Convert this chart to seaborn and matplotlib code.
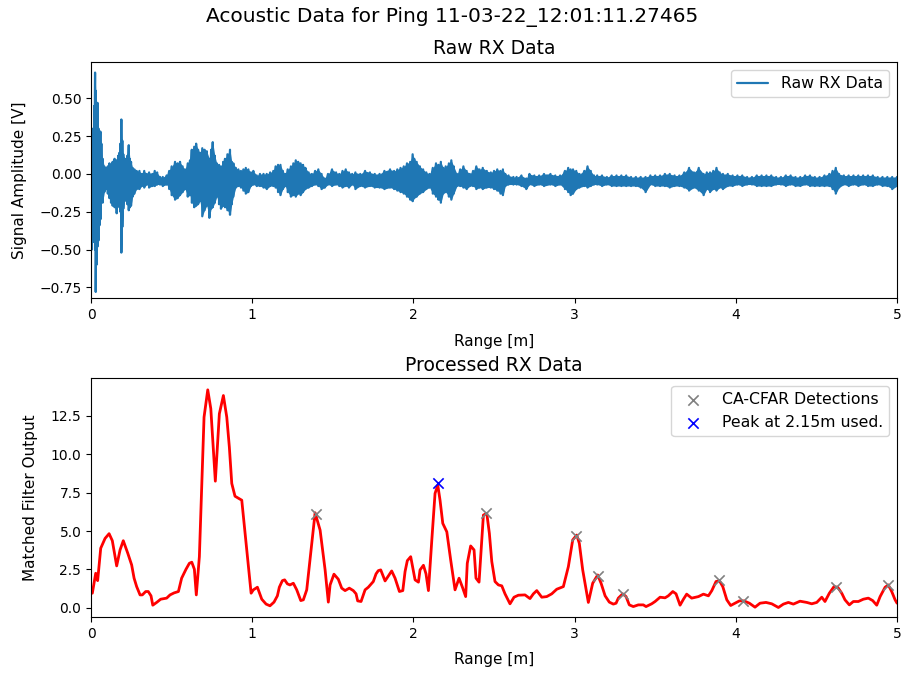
"""
Acoustic ping plot: raw RX signal and matched filter output with CA-CFAR detections
"""

import numpy as np
import matplotlib
matplotlib.use("Agg")
import matplotlib.pyplot as plt
import seaborn as sns

# --- Data ---
# raw RX signal, upper / lower extremes of the trace at each range
raw_range = [0.000, 0.005, 0.010, 0.015, 0.020, 0.025, 0.029, 0.034, 0.040, 0.046,
             0.052, 0.058, 0.064, 0.072, 0.082, 0.093, 0.104, 0.114, 0.124, 0.134,
             0.146, 0.159, 0.168, 0.176, 0.182, 0.188, 0.194, 0.200, 0.208, 0.217,
             0.225, 0.234, 0.241, 0.248, 0.258, 0.269, 0.283, 0.300, 0.315, 0.330,
             0.345, 0.360, 0.380, 0.395, 0.410, 0.428, 0.445, 0.469, 0.485, 0.500,
             0.521, 0.537, 0.552, 0.568, 0.583, 0.600, 0.614, 0.625, 0.640, 0.652,
             0.664, 0.676, 0.690, 0.704, 0.718, 0.734, 0.745, 0.755, 0.768, 0.780,
             0.794, 0.806, 0.820, 0.831, 0.846, 0.862, 0.873, 0.883, 0.898, 0.914,
             0.930, 0.945, 0.960, 0.976, 0.992, 1.007, 1.028, 1.048, 1.070, 1.090,
             1.111, 1.131, 1.145, 1.160, 1.175, 1.190, 1.205, 1.220, 1.240, 1.255,
             1.270, 1.285, 1.300, 1.315, 1.330, 1.350, 1.370, 1.390, 1.410, 1.430,
             1.450, 1.470, 1.495, 1.520, 1.540, 1.560, 1.580, 1.600, 1.620, 1.640,
             1.670, 1.700, 1.730, 1.760, 1.790, 1.820, 1.855, 1.880, 1.900, 1.920,
             1.940, 1.960, 1.980, 1.995, 2.005, 2.020, 2.040, 2.060, 2.080, 2.100,
             2.120, 2.140, 2.155, 2.170, 2.185, 2.200, 2.220, 2.235, 2.250, 2.270,
             2.290, 2.310, 2.330, 2.350, 2.370, 2.390, 2.410, 2.430, 2.455, 2.480,
             2.500, 2.520, 2.540, 2.555, 2.570, 2.590, 2.620, 2.640, 2.670, 2.700,
             2.720, 2.750, 2.780, 2.810, 2.850, 2.880, 2.910, 2.940, 2.960, 2.975,
             2.990, 3.010, 3.030, 3.060, 3.080, 3.100, 3.120, 3.140, 3.170, 3.200,
             3.230, 3.260, 3.290, 3.320, 3.350, 3.380, 3.410, 3.440, 3.470, 3.500,
             3.530, 3.560, 3.590, 3.620, 3.650, 3.680, 3.710, 3.740, 3.770, 3.800,
             3.820, 3.840, 3.860, 3.880, 3.900, 3.920, 3.950, 3.980, 4.010, 4.040,
             4.070, 4.100, 4.130, 4.160, 4.190, 4.220, 4.250, 4.280, 4.310, 4.340,
             4.370, 4.400, 4.430, 4.460, 4.490, 4.520, 4.550, 4.580, 4.600, 4.620,
             4.640, 4.670, 4.700, 4.730, 4.760, 4.790, 4.820, 4.850, 4.880, 4.910,
             4.940, 4.970, 5.000]
raw_upper = [0.30, 0.30, 0.25, 0.28, 0.45, 0.67, 0.55, 0.40, 0.47, 0.30,
             0.28, 0.28, 0.20, 0.10, 0.05, 0.04, 0.05, 0.07, 0.06, 0.08,
             0.10, 0.09, 0.12, 0.14, 0.20, 0.36, 0.22, 0.13, 0.10, 0.10,
             0.12, 0.19, 0.10, 0.08, 0.04, 0.03, 0.02, 0.02, 0.00, 0.02,
             0.00, 0.01, 0.00, 0.02, 0.01, -0.02, -0.02, -0.01, 0.02, 0.05,
             0.08, 0.07, 0.08, 0.05, 0.03, 0.07, 0.09, 0.16, 0.18, 0.20,
             0.16, 0.14, 0.17, 0.16, 0.15, 0.10, 0.16, 0.21, 0.12, 0.07,
             0.06, 0.05, 0.08, 0.10, 0.13, 0.16, 0.08, 0.07, 0.04, 0.03,
             0.02, 0.03, 0.04, 0.03, 0.01, 0.02, -0.01, 0.00, 0.00, 0.00,
             0.01, 0.02, 0.05, 0.06, 0.06, 0.02, 0.00, 0.03, 0.05, 0.07,
             0.09, 0.08, 0.07, 0.06, 0.04, 0.01, 0.00, 0.02, 0.03, 0.00,
             -0.03, 0.00, 0.03, 0.01, 0.00, 0.02, 0.03, 0.01, 0.00, 0.01,
             0.00, 0.02, 0.01, 0.00, 0.00, 0.02, 0.03, 0.02, 0.03, 0.04,
             0.05, 0.07, 0.08, 0.13, 0.10, 0.08, 0.05, 0.03, 0.01, 0.00,
             0.04, 0.07, 0.06, 0.08, 0.04, 0.05, 0.07, 0.09, 0.05, 0.00,
             0.03, 0.05, 0.02, 0.00, 0.02, 0.05, 0.03, 0.04, 0.02, 0.01,
             0.02, 0.03, 0.02, 0.03, 0.00, -0.01, -0.02, -0.02, -0.01, -0.03,
             0.00, -0.01, -0.01, 0.00, 0.00, -0.01, -0.01, 0.02, 0.04, 0.03,
             0.03, 0.02, 0.00, 0.02, 0.05, 0.02, -0.01, -0.01, -0.01, -0.02,
             -0.01, -0.01, -0.01, -0.01, -0.02, -0.02, -0.02, -0.02, -0.01, -0.01,
             -0.01, 0.00, 0.00, -0.01, -0.01, 0.01, 0.04, 0.01, 0.04, 0.00,
             0.01, 0.01, 0.02, 0.04, 0.01, 0.00, 0.00, -0.01, -0.01, -0.01,
             -0.02, -0.02, -0.01, -0.01, -0.01, -0.01, -0.02, -0.02, -0.01, -0.01,
             -0.02, -0.02, -0.01, -0.01, -0.02, -0.02, -0.01, 0.00, 0.02, 0.04,
             0.00, -0.01, -0.01, -0.01, -0.01, -0.01, -0.01, -0.01, -0.02, -0.02,
             -0.02, -0.02, -0.02]
raw_lower = [-0.48, -0.50, -0.40, -0.45, -0.30, -0.50, -0.78, -0.60, -0.48, -0.44,
             -0.34, -0.30, -0.17, -0.19, -0.12, -0.10, -0.13, -0.16, -0.19, -0.21,
             -0.22, -0.26, -0.20, -0.22, -0.25, -0.52, -0.35, -0.23, -0.18, -0.16,
             -0.20, -0.24, -0.22, -0.21, -0.15, -0.13, -0.10, -0.10, -0.08, -0.09,
             -0.07, -0.09, -0.08, -0.08, -0.07, -0.07, -0.08, -0.07, -0.10, -0.14,
             -0.17, -0.16, -0.14, -0.12, -0.10, -0.15, -0.14, -0.19, -0.22, -0.21,
             -0.20, -0.18, -0.28, -0.24, -0.21, -0.29, -0.23, -0.22, -0.19, -0.15,
             -0.20, -0.23, -0.21, -0.22, -0.24, -0.27, -0.20, -0.15, -0.09, -0.08,
             -0.09, -0.11, -0.13, -0.12, -0.08, -0.07, -0.08, -0.08, -0.09, -0.10,
             -0.08, -0.08, -0.09, -0.12, -0.14, -0.10, -0.08, -0.12, -0.15, -0.14,
             -0.15, -0.13, -0.14, -0.12, -0.10, -0.09, -0.08, -0.07, -0.08, -0.10,
             -0.09, -0.07, -0.08, -0.07, -0.08, -0.09, -0.08, -0.09, -0.07, -0.10,
             -0.08, -0.09, -0.08, -0.09, -0.09, -0.10, -0.09, -0.10, -0.11, -0.12,
             -0.13, -0.15, -0.17, -0.18, -0.16, -0.15, -0.13, -0.12, -0.10, -0.09,
             -0.13, -0.15, -0.17, -0.19, -0.13, -0.12, -0.15, -0.17, -0.13, -0.08,
             -0.08, -0.09, -0.10, -0.08, -0.08, -0.10, -0.09, -0.10, -0.09, -0.09,
             -0.10, -0.11, -0.13, -0.14, -0.08, -0.07, -0.07, -0.07, -0.08, -0.10,
             -0.07, -0.08, -0.07, -0.08, -0.07, -0.08, -0.07, -0.10, -0.12, -0.14,
             -0.13, -0.10, -0.09, -0.08, -0.09, -0.08, -0.07, -0.07, -0.08, -0.07,
             -0.08, -0.08, -0.08, -0.08, -0.08, -0.08, -0.09, -0.12, -0.07, -0.08,
             -0.08, -0.08, -0.09, -0.08, -0.08, -0.09, -0.11, -0.09, -0.11, -0.14,
             -0.10, -0.12, -0.10, -0.11, -0.09, -0.10, -0.08, -0.08, -0.07, -0.08,
             -0.07, -0.07, -0.08, -0.08, -0.08, -0.08, -0.07, -0.07, -0.08, -0.07,
             -0.08, -0.08, -0.07, -0.08, -0.08, -0.08, -0.08, -0.08, -0.10, -0.13,
             -0.09, -0.07, -0.08, -0.07, -0.08, -0.07, -0.08, -0.08, -0.07, -0.08,
             -0.08, -0.10, -0.08]

# matched filter output
mf_range = [0.008, 0.029, 0.041, 0.060, 0.087, 0.112, 0.132, 0.159, 0.180, 0.200,
            0.228, 0.252, 0.267, 0.283, 0.304, 0.318, 0.339, 0.355, 0.372, 0.383,
            0.407, 0.432, 0.469, 0.490, 0.515, 0.542, 0.562, 0.589, 0.610, 0.625,
            0.641, 0.653, 0.672, 0.701, 0.724, 0.743, 0.771, 0.796, 0.821, 0.842,
            0.858, 0.873, 0.893, 0.935, 0.993, 1.007, 1.032, 1.059, 1.086, 1.110,
            1.135, 1.156, 1.168, 1.187, 1.201, 1.218, 1.234, 1.255, 1.276, 1.301,
            1.317, 1.338, 1.369, 1.390, 1.421, 1.452, 1.472, 1.483, 1.507, 1.534,
            1.555, 1.576, 1.602, 1.627, 1.644, 1.654, 1.675, 1.700, 1.720, 1.751,
            1.768, 1.782, 1.797, 1.824, 1.865, 1.886, 1.913, 1.934, 1.948, 1.962,
            1.983, 2.010, 2.031, 2.041, 2.062, 2.078, 2.093, 2.114, 2.134, 2.151,
            2.165, 2.182, 2.207, 2.231, 2.258, 2.283, 2.306, 2.324, 2.334, 2.355,
            2.376, 2.388, 2.407, 2.434, 2.455, 2.471, 2.486, 2.506, 2.527, 2.548,
            2.568, 2.599, 2.624, 2.651, 2.692, 2.723, 2.744, 2.765, 2.796, 2.827,
            2.858, 2.889, 2.930, 2.961, 2.988, 3.013, 3.029, 3.050, 3.085, 3.112,
            3.143, 3.164, 3.189, 3.215, 3.240, 3.257, 3.271, 3.298, 3.319, 3.339,
            3.364, 3.395, 3.426, 3.443, 3.478, 3.499, 3.530, 3.561, 3.581, 3.609,
            3.629, 3.654, 3.675, 3.695, 3.726, 3.768, 3.799, 3.830, 3.851, 3.877,
            3.898, 3.919, 3.944, 3.968, 3.995, 4.022, 4.051, 4.084, 4.119, 4.150,
            4.187, 4.223, 4.264, 4.295, 4.326, 4.357, 4.398, 4.440, 4.471, 4.502,
            4.533, 4.553, 4.580, 4.609, 4.632, 4.657, 4.677, 4.704, 4.729, 4.760,
            4.791, 4.822, 4.849, 4.874, 4.895, 4.926, 4.946, 4.967, 4.988, 5.000]
mf_output = [0.95, 2.25, 1.77, 3.88, 4.52, 4.83, 4.37, 2.73, 3.77, 4.37,
             3.55, 2.79, 1.93, 1.38, 0.84, 0.84, 1.06, 1.06, 0.78, 0.17,
             0.35, 0.56, 0.63, 0.84, 0.97, 1.06, 1.93, 2.51, 2.90, 2.97,
             2.51, 0.84, 3.33, 12.42, 14.20, 12.97, 8.25, 12.64, 13.83, 12.42,
             10.47, 8.10, 7.27, 7.01, 0.95, 1.17, 1.34, 0.56, 0.24, 0.13,
             0.37, 0.78, 1.34, 1.77, 1.82, 1.56, 1.49, 1.60, 1.17, 0.47,
             0.52, 1.17, 4.20, 6.19, 5.06, 2.47, 0.37, 1.49, 2.19, 1.86,
             1.28, 1.12, 1.28, 1.12, 0.91, 0.45, 0.41, 1.17, 1.34, 1.71,
             2.21, 2.42, 2.47, 1.75, 2.40, 1.93, 1.06, 1.12, 2.36, 3.07,
             3.33, 1.82, 1.67, 2.47, 2.77, 2.21, 1.12, 4.42, 7.45, 7.99,
             7.01, 5.50, 4.95, 3.12, 1.17, 1.93, 1.28, 0.73, 2.90, 4.03,
             3.77, 1.93, 1.67, 6.04, 6.15, 4.85, 3.01, 1.71, 1.49, 1.43,
             0.91, 0.26, 0.69, 0.82, 0.84, 0.60, 0.91, 1.12, 0.69, 0.73,
             0.91, 1.21, 1.38, 2.68, 4.42, 4.74, 4.20, 2.47, 0.35, 1.60,
             2.14, 1.60, 0.78, 0.37, 0.24, 0.30, 0.63, 0.91, 0.73, 0.19,
             0.08, 0.19, 0.19, 0.08, 0.26, 0.41, 0.69, 0.65, 0.78, 1.06,
             0.91, 0.17, 0.56, 0.89, 0.63, 0.73, 0.89, 0.78, 1.12, 1.71,
             1.77, 1.38, 0.52, 0.15, 0.30, 0.45, 0.45, 0.30, 0.04, 0.30,
             0.35, 0.26, 0.02, 0.24, 0.35, 0.24, 0.43, 0.35, 0.26, 0.35,
             0.69, 0.41, 0.95, 1.38, 1.34, 0.95, 0.52, 0.19, 0.41, 0.41,
             0.56, 0.63, 0.47, 0.17, 0.73, 1.34, 1.49, 1.06, 0.52, 0.30]

# CA-CFAR detections and the peak used
det_range = [1.396, 2.450, 3.010, 3.145, 3.300, 3.896, 4.045, 4.620, 4.944]
det_value = [6.10, 6.17, 4.68, 2.08, 0.91, 1.82, 0.45, 1.36, 1.49]
peak_range = [2.153]
peak_value = [8.12]

# --- Plot ---
sns.set_style("ticks")
plt.rcParams["font.family"] = ["DejaVu Sans"]
plt.rcParams["font.size"] = 10
for key in ["text.color", "axes.labelcolor", "axes.edgecolor",
            "xtick.color", "ytick.color"]:
    plt.rcParams[key] = "black"

fig = plt.figure(figsize=(9.05, 6.73), dpi=100)
ax1 = fig.add_axes([0.1006, 0.5572, 0.8906, 0.3507])
ax2 = fig.add_axes([0.1006, 0.0832, 0.8906, 0.3551])

# raw trace: walk between the upper and lower extremes at each range
zig_x = np.repeat(raw_range, 2)
zig_y = np.column_stack([raw_upper, raw_lower]).ravel()
ax1.fill_between(raw_range, raw_lower, raw_upper, color="#1f77b4", lw=0)
sns.lineplot(x=zig_x, y=zig_y, ax=ax1, color="#1f77b4", lw=1.6,
             estimator=None, sort=False, label="Raw RX Data")
ax1.set_xlim(0, 5)
ax1.set_ylim(-0.82, 0.74)
ax1.set_yticks([-0.75, -0.5, -0.25, 0, 0.25, 0.5])
ax1.set_xlabel("Range [m]", fontsize=11, labelpad=9)
ax1.set_ylabel("Signal Amplitude [V]", fontsize=11, labelpad=9)
ax1.set_title("Raw RX Data", fontsize=13.5)
ax1.legend(loc="upper right", fontsize=11.3)

sns.lineplot(x=mf_range, y=mf_output, ax=ax2, color="red", lw=2,
             estimator=None, sort=False)
sns.scatterplot(x=det_range, y=det_value, ax=ax2, marker="x", color="gray",
                s=55, linewidth=1.2, label="CA-CFAR Detections", zorder=3)
sns.scatterplot(x=peak_range, y=peak_value, ax=ax2, marker="x", color="blue",
                s=55, linewidth=1.2, label="Peak at 2.15m used.", zorder=3)
ax2.set_xlim(0, 5)
ax2.set_ylim(-0.6, 14.97)
ax2.set_yticks([0, 2.5, 5, 7.5, 10, 12.5])
ax2.set_xlabel("Range [m]", fontsize=11, labelpad=8)
ax2.set_ylabel("Matched Filter Output", fontsize=11, labelpad=9)
ax2.set_title("Processed RX Data", fontsize=13.5, pad=5)
ax2.legend(loc="upper right", fontsize=11.3)

fig.suptitle("Acoustic Data for Ping 11-03-22_12:01:11.27465", fontsize=14.5, y=0.99)

plt.savefig("out.png", dpi=100)
plt.close()
